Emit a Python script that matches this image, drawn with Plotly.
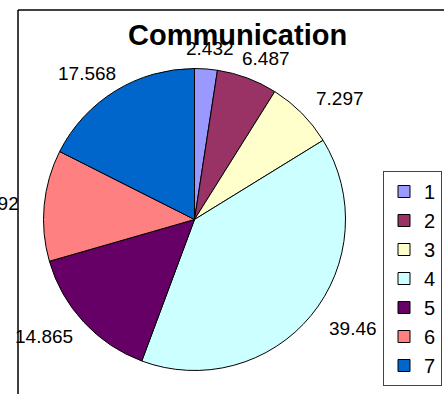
import math
import plotly.graph_objects as go

# Slice data
categories = ["1", "2", "3", "4", "5", "6", "7"]
values = [2.432, 6.487, 7.297, 39.46, 14.865, 11.892, 17.568]
colors = ["#9999FF", "#993366", "#FFFFCC", "#CCFFFF", "#660066", "#FF8080", "#0066CC"]

W, H = 444, 394
FONT = "Liberation Sans, Arial, sans-serif"

# pie placement (paper fractions)
dom_x = [43.5 / W, 345.5 / W]
dom_y = [1 - 370.5 / H, 1 - 68.5 / H]

fig = go.Figure(
    go.Pie(
        labels=categories,
        values=values,
        sort=False,
        direction="clockwise",
        rotation=0,
        marker=dict(colors=colors, line=dict(color="black", width=1)),
        textinfo="none",
        hoverinfo="label+value",
        domain=dict(x=dom_x, y=dom_y),
    )
)

# value labels placed around the pie at each slice's mid-angle
cx = (dom_x[0] + dom_x[1]) / 2
cy = (dom_y[0] + dom_y[1]) / 2
rx, ry = 205, 172
total = sum(values)
cum = 0.0
annotations = []
for v in values:
    mid = (cum + v / 2) / total * 2 * math.pi
    cum += v
    annotations.append(
        dict(
            x=cx + rx * math.sin(mid) / W,
            y=cy + ry * math.cos(mid) / H,
            xref="paper",
            yref="paper",
            text=f"{v:g}",
            showarrow=False,
            xanchor="center",
            yanchor="middle",
            font=dict(family=FONT, size=19, color="black"),
        )
    )

annotations.append(
    dict(
        x=238 / W,
        y=1 - 35 / H,
        xref="paper",
        yref="paper",
        text="<b>Communication</b>",
        showarrow=False,
        xanchor="center",
        yanchor="middle",
        font=dict(family=FONT, size=29, color="black"),
    )
)

fig.update_layout(
    width=W,
    height=H,
    margin=dict(l=0, r=0, t=0, b=0, autoexpand=False),
    paper_bgcolor="white",
    plot_bgcolor="white",
    annotations=annotations,
    showlegend=True,
    legend=dict(
        x=383 / W,
        y=1 - 171 / H,
        xanchor="left",
        yanchor="top",
        bordercolor="#444444",
        borderwidth=1,
        bgcolor="white",
        font=dict(family=FONT, size=20, color="black"),
        traceorder="normal",
    ),
    shapes=[
        # chart frame: top and left edges
        dict(type="line", xref="paper", yref="paper", x0=18 / W, x1=1.01,
             y0=1 - 10 / H, y1=1 - 10 / H, line=dict(color="black", width=1.5)),
        dict(type="line", xref="paper", yref="paper", x0=18 / W, x1=18 / W,
             y0=1 - 10 / H, y1=-0.01, line=dict(color="black", width=1.5)),
    ],
)

fig.write_html("out.html")
